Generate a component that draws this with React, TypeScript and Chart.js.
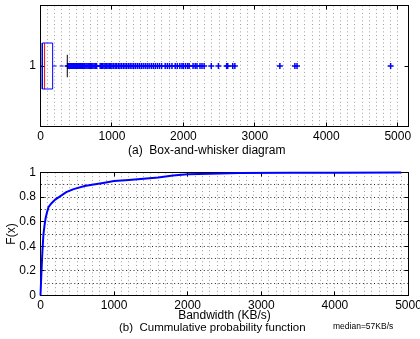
import React, { useEffect, useRef } from 'react';
import { Chart, registerables } from 'chart.js';

Chart.register(...registerables);

const FONT = '"Liberation Sans", Arial, Helvetica, sans-serif';

// ---- (a) Box-and-whisker summary, bandwidth in KB/s ----
const boxLowerWhisker = 0;
const boxQ1 = 25;
const boxMedian = 57;
const boxQ3 = 170;
const boxUpperWhisker = 375;
const outliers = [
  380, 392, 405, 418, 431, 447, 460, 474, 488, 503, 517, 530, 546, 560, 575, 590,
  606, 620, 636, 651, 667, 683, 700, 716, 733, 750, 768, 785, 835, 852, 870, 889,
  905, 925, 944, 962, 981, 1000, 1022, 1045, 1066, 1090, 1112, 1135, 1160, 1183,
  1207, 1232, 1255, 1280, 1305, 1330, 1356, 1382, 1410, 1437, 1465, 1493, 1520,
  1550, 1578, 1607, 1636, 1665, 1695, 1745, 1775, 1805, 1840, 1885, 1915, 1950,
  1980, 2000, 2030, 2060, 2080, 2135, 2165, 2190, 2232, 2260, 2290, 2390, 2490,
  2605, 2620, 2690, 2720, 3350, 3560, 3590, 4900,
];
const topXMax = 5150;
const xMajorTicks = [0, 1000, 2000, 3000, 4000, 5000];

// ---- (b) Cumulative probability function ----
const cdfX = [0, 10, 25, 40, 57, 70, 90, 110, 150, 200, 250, 350, 450, 600, 700, 850,
  1000, 1200, 1400, 1600, 1800, 2000, 2300, 2700, 3400, 4000, 4900];
const cdfF = [0, 0.15, 0.35, 0.5, 0.58, 0.63, 0.68, 0.72, 0.75, 0.78, 0.8, 0.84, 0.865,
  0.89, 0.9, 0.915, 0.93, 0.94, 0.95, 0.96, 0.975, 0.985, 0.99, 0.995, 0.997, 0.998, 1.0];
const cdfYTicks = [0, 0.2, 0.4, 0.6, 0.8, 1];
const bottomXMax = 5000;

const BLUE = '#0000ff';
const RED = '#ff0000';
const BOX_HALF = 0.19;
const CAP_HALF = 0.093;
const LIGHT_GRID = 'rgba(0,0,0,0.38)';
const DARK_GRID = 'rgba(0,0,0,0.85)';

const framePlugin = {
  id: 'frame',
  beforeDatasetsDraw(chart: any, _args: any, opts: any) {
    const { ctx, chartArea } = chart;
    const { left, right, top, bottom } = chartArea;
    const xs = chart.scales.x;
    const ys = chart.scales.y;
    ctx.save();
    ctx.strokeStyle = '#000';
    ctx.lineWidth = 1;
    ctx.setLineDash([]);
    ctx.strokeRect(left, top, right - left, bottom - top);
    const L = 4;
    ctx.beginPath();
    (opts.xMajor || []).forEach((v: number) => {
      const p = Math.floor(xs.getPixelForValue(v)) + 0.5;
      ctx.moveTo(p, bottom); ctx.lineTo(p, bottom - L);
      ctx.moveTo(p, top); ctx.lineTo(p, top + L);
    });
    (opts.yMajor || []).forEach((v: number) => {
      const p = Math.floor(ys.getPixelForValue(v)) + 0.5;
      ctx.moveTo(left, p); ctx.lineTo(left + L, p);
      ctx.moveTo(right, p); ctx.lineTo(right - L, p);
    });
    ctx.stroke();
    ctx.restore();
  },
};

const fixScale = (w?: number, h?: number) => (scale: any) => {
  if (w !== undefined) scale.width = w;
  if (h !== undefined) scale.height = h;
  scale.paddingLeft = 0;
  scale.paddingRight = 0;
  scale.paddingTop = 0;
  scale.paddingBottom = 0;
};

const tickFont = { family: FONT, size: 12 };

export default function App() {
  const topRef = useRef<HTMLCanvasElement>(null);
  const botRef = useRef<HTMLCanvasElement>(null);

  useEffect(() => {
    const seg = (pts: { x: number; y: number }[], color: string, extra: any = {}) => ({
      data: pts,
      showLine: true,
      borderColor: color,
      backgroundColor: color,
      borderWidth: 1,
      pointRadius: 0,
      tension: 0,
      ...extra,
    });

    const topChart = new Chart(topRef.current as HTMLCanvasElement, {
      type: 'scatter',
      data: {
        datasets: [
          seg([
            { x: boxQ1, y: 1 - BOX_HALF }, { x: boxQ3, y: 1 - BOX_HALF },
            { x: boxQ3, y: 1 + BOX_HALF }, { x: boxQ1, y: 1 + BOX_HALF },
            { x: boxQ1, y: 1 - BOX_HALF },
          ], BLUE),
          seg([{ x: boxMedian, y: 1 - BOX_HALF }, { x: boxMedian, y: 1 + BOX_HALF }], RED),
          seg([{ x: boxQ3, y: 1 }, { x: boxUpperWhisker, y: 1 }], BLUE, { borderDash: [4, 3] }),
          seg([{ x: boxLowerWhisker, y: 1 }, { x: boxQ1, y: 1 }], BLUE, { borderDash: [4, 3] }),
          seg([{ x: boxUpperWhisker, y: 1 - CAP_HALF }, { x: boxUpperWhisker, y: 1 + CAP_HALF }], '#000'),
          {
            data: outliers.map((v) => ({ x: v, y: 1 })),
            showLine: false,
            pointStyle: 'cross',
            pointRadius: 3,
            borderColor: BLUE,
            backgroundColor: BLUE,
            pointBorderWidth: 1.5,
            borderWidth: 1.5,
          },
        ],
      } as any,
      options: {
        animation: false,
        responsive: false,
        devicePixelRatio: 1,
        events: [],
        layout: { padding: { left: 0, top: 5.5, right: 11.5, bottom: 0 } },
        plugins: {
          legend: { display: false },
          tooltip: { enabled: false },
          frame: { xMajor: xMajorTicks, yMajor: [1] },
        } as any,
        scales: {
          x: {
            type: 'linear',
            min: 0,
            max: topXMax,
            afterFit: fixScale(undefined, 33.5),
            border: { display: false, dash: [1, 2.7] },
            grid: {
              drawTicks: false,
              color: (c: any) => (c.tick && c.tick.value % 100 === 0 && c.tick.value > 0 && c.tick.value < topXMax ? LIGHT_GRID : 'transparent'),
            },
            ticks: {
              stepSize: 100,
              autoSkip: false,
              maxRotation: 0,
              padding: 3,
              color: '#000',
              font: tickFont,
              callback: (v: any) => (xMajorTicks.includes(v) ? String(v) : ''),
            },
          },
          y: {
            type: 'linear',
            min: 0.5,
            max: 1.5,
            afterFit: fixScale(40.5, undefined),
            afterBuildTicks: (s: any) => { s.ticks = [{ value: 1 }]; },
            border: { display: false },
            grid: { display: false, drawTicks: false },
            ticks: { padding: 4.5, color: '#000', font: tickFont, callback: () => '1' },
          },
        },
      } as any,
      plugins: [framePlugin],
    });

    const botChart = new Chart(botRef.current as HTMLCanvasElement, {
      type: 'scatter',
      data: {
        datasets: [
          {
            data: cdfX.map((x, i) => ({ x, y: cdfF[i] })),
            showLine: true,
            borderColor: BLUE,
            backgroundColor: BLUE,
            borderWidth: 2,
            pointRadius: 0,
            tension: 0,
            clip: 3,
          },
        ],
      } as any,
      options: {
        animation: false,
        responsive: false,
        devicePixelRatio: 1,
        events: [],
        layout: { padding: { left: 0, top: 12.5, right: 11.5, bottom: 0 } },
        plugins: {
          legend: { display: false },
          tooltip: { enabled: false },
          frame: { xMajor: xMajorTicks, yMajor: cdfYTicks },
        } as any,
        scales: {
          x: {
            type: 'linear',
            min: 0,
            max: bottomXMax,
            afterFit: fixScale(undefined, 43.5),
            border: { display: false, dash: [1, 2.7] },
            grid: {
              drawTicks: false,
              color: (c: any) => (c.tick && c.tick.value % 100 === 0 && c.tick.value > 0 && c.tick.value < bottomXMax ? LIGHT_GRID : 'transparent'),
            },
            ticks: {
              stepSize: 100,
              autoSkip: false,
              maxRotation: 0,
              padding: 3,
              color: '#000',
              font: tickFont,
              callback: (v: any) => (xMajorTicks.includes(v) ? String(v) : ''),
            },
            title: {
              display: true,
              text: 'Bandwidth (KB/s)',
              color: '#000',
              font: { family: FONT, size: 12 },
              padding: { top: 0, bottom: 16 },
            },
          },
          y: {
            type: 'linear',
            min: 0,
            max: 1,
            afterFit: fixScale(40.5, undefined),
            border: { display: false, dash: [1, 2.7] },
            grid: {
              drawTicks: false,
              color: (c: any) => {
                const k = c.tick ? Math.round(c.tick.value * 10) : 0;
                return k > 0 && k < 10 ? DARK_GRID : 'transparent';
              },
            },
            ticks: {
              stepSize: 0.1,
              autoSkip: false,
              padding: 4.5,
              color: '#000',
              font: tickFont,
              callback: (v: any) => {
                const k = Math.round(v * 10);
                return k % 2 === 0 ? String(k / 10) : '';
              },
            },
            title: {
              display: true,
              text: 'F(x)',
              color: '#000',
              font: { family: FONT, size: 12 },
              padding: { top: 4.3, bottom: 0 },
            },
          },
        },
      } as any,
      plugins: [framePlugin],
    });

    return () => {
      topChart.destroy();
      botChart.destroy();
    };
  }, []);

  return (
    <div style={{ position: 'absolute', left: 0, top: 0, width: 420, height: 339, background: '#fff', overflow: 'hidden', fontFamily: FONT, color: '#000' }}>
      <canvas ref={topRef} width={420} height={160} style={{ position: 'absolute', left: 0, top: 0, width: 420, height: 160 }} />
      <canvas ref={botRef} width={420} height={179} style={{ position: 'absolute', left: 0, top: 160, width: 420, height: 179 }} />
      <div style={{ position: 'absolute', left: 128, top: 142.5, fontSize: 12, lineHeight: '14px', whiteSpace: 'pre' }}>
        {'(a)  Box-and-whisker diagram'}
      </div>
      <div style={{ position: 'absolute', left: 119, top: 320, fontSize: 11.5, lineHeight: '14px', whiteSpace: 'pre' }}>
        {'(b)  Cummulative probability function'}
      </div>
      <div style={{ position: 'absolute', left: 333, top: 321, fontSize: 8.5, lineHeight: '10px', whiteSpace: 'pre' }}>
        {'median=57KB/s'}
      </div>
    </div>
  );
}
